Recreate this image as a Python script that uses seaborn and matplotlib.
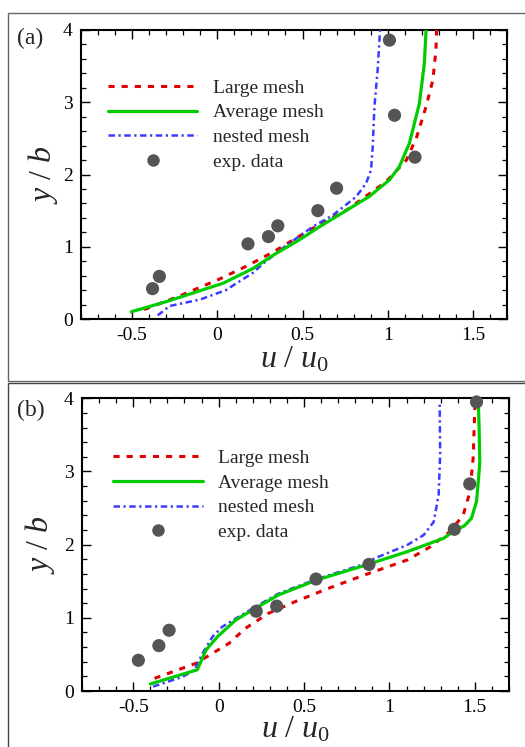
import matplotlib
matplotlib.use("Agg")
import matplotlib.pyplot as plt
import numpy as np
import pandas as pd
import seaborn as sns
from matplotlib.lines import Line2D
from matplotlib.patches import Rectangle
from matplotlib.ticker import MultipleLocator, FuncFormatter

# ---------------- data ----------------
# panel (a)
large_a_u = [-0.43, -0.22, 0.01, 0.17, 0.33, 0.54, 0.76, 0.99, 1.11, 1.17, 1.225, 1.265, 1.283, 1.287]
large_a_y = [0.13, 0.32, 0.55, 0.73, 0.93, 1.23, 1.51, 1.90, 2.20, 2.52, 2.94, 3.31, 3.72, 4.0]
avg_a_u = [-0.505, -0.30, 0.033, 0.21, 0.33, 0.48, 0.60, 0.89, 1.01, 1.068, 1.127, 1.186, 1.215, 1.225]
avg_a_y = [0.10, 0.24, 0.494, 0.70, 0.886, 1.093, 1.277, 1.693, 1.924, 2.108, 2.43, 2.986, 3.54, 4.0]
nested_a_u = [-0.35, -0.28, -0.10, 0.05, 0.21, 0.27, 0.40, 0.56, 0.68, 0.815, 0.873, 0.902, 0.912, 0.922, 0.941, 0.955]
nested_a_y = [0.05, 0.18, 0.27, 0.40, 0.64, 0.77, 1.01, 1.277, 1.44, 1.693, 1.878, 2.06, 2.385, 2.94, 3.45, 4.0]
exp_a_u = [-0.38, -0.34, 0.18, 0.30, 0.355, 0.59, 0.70, 1.16, 1.04, 1.01]
exp_a_y = [0.42, 0.59, 1.04, 1.14, 1.29, 1.50, 1.81, 2.24, 2.82, 3.86]

# panel (b)
large_b_u = [-0.375, -0.133, -0.036, 0.061, 0.157, 0.292, 0.447, 0.64, 0.853, 1.104, 1.239, 1.355, 1.432, 1.471, 1.49, 1.50, 1.51]
large_b_y = [0.173, 0.378, 0.515, 0.652, 0.857, 1.062, 1.22, 1.40, 1.585, 1.79, 1.97, 2.18, 2.405, 2.72, 3.18, 3.86, 3.97]
avg_b_u = [-0.40, -0.125, -0.074, -0.007, 0.10, 0.215, 0.35, 0.575, 0.86, 1.104, 1.317, 1.375, 1.44, 1.48, 1.51, 1.525, 1.529, 1.525, 1.52]
avg_b_y = [0.096, 0.29, 0.56, 0.742, 0.97, 1.13, 1.312, 1.517, 1.72, 1.904, 2.087, 2.18, 2.26, 2.36, 2.59, 3.0, 3.13, 3.6, 3.97]
nested_b_u = [-0.384, -0.21, -0.142, -0.094, -0.036, 0.022, 0.10, 0.215, 0.35, 0.575, 0.86, 0.911, 1.104, 1.20, 1.259, 1.288, 1.297, 1.294]
nested_b_y = [0.06, 0.195, 0.287, 0.515, 0.742, 0.879, 0.99, 1.15, 1.33, 1.53, 1.74, 1.81, 1.995, 2.13, 2.31, 2.68, 3.23, 3.95]
exp_b_u = [-0.47, -0.35, -0.29, 0.22, 0.34, 0.57, 0.88, 1.38, 1.47, 1.51]
exp_b_y = [0.42, 0.62, 0.83, 1.09, 1.16, 1.53, 1.73, 2.21, 2.83, 3.95]

series_names = ["Large mesh", "Average mesh", "nested mesh", "exp. data"]
x_ticks = [-0.5, 0, 0.5, 1, 1.5]
y_ticks = [0, 1, 2, 3, 4]
panel_labels = ["(a)", "(b)"]

# ---------------- style ----------------
sns.set_theme(style="white")
plt.rcParams["font.family"] = ["Liberation Serif", "DejaVu Serif"]
plt.rcParams["mathtext.fontset"] = "custom"
plt.rcParams["mathtext.it"] = "Liberation Serif:italic"
plt.rcParams["mathtext.rm"] = "Liberation Serif"
plt.rcParams["axes.unicode_minus"] = False

RED = "#e00000"
GREEN = "#00cc00"
BLUE = "#3b3bff"
GRAY = "#555555"
RED_DASH = (2.0, 2.3)
BLUE_DASH = (2.6, 1.4, 0.9, 1.4)

fig = plt.figure(figsize=(5.25, 7.47), dpi=100)
ax_a = fig.add_axes([81/525, 1 - 319/747, 426/525, 289/747])
ax_b = fig.add_axes([82/525, 1 - 691/747, 427/525, 292.7/747])

# frames around panels
fig.add_artist(Rectangle((8/525, 1 - 381.3/747), 1.0, (381.3 - 13)/747, transform=fig.transFigure,
                         fill=False, ec="#666666", lw=1.0))
fig.add_artist(Rectangle((8/525, -0.05), 1.0, 0.05 + (747 - 383.3)/747, transform=fig.transFigure,
                         fill=False, ec="#444444", lw=1.0))

panels = [
    (ax_a, large_a_u, large_a_y, avg_a_u, avg_a_y, nested_a_u, nested_a_y, exp_a_u, exp_a_y,
     (0.063, 0.83), -0.09, -0.142),
    (ax_b, large_b_u, large_b_y, avg_b_u, avg_b_y, nested_b_u, nested_b_y, exp_b_u, exp_b_y,
     (0.073, 0.825), -0.098, -0.133),
]

for i, (ax, lu, ly, au, ay, nu, ny, eu, ey, leg_anchor, ylab_x, xlab_y) in enumerate(panels):
    df_l = pd.DataFrame({"u": lu, "y": ly})
    df_a = pd.DataFrame({"u": au, "y": ay})
    df_n = pd.DataFrame({"u": nu, "y": ny})
    df_e = pd.DataFrame({"u": eu, "y": ey})

    sns.lineplot(data=df_l, x="u", y="y", sort=False, estimator=None, ax=ax,
                 color=RED, lw=2.2, zorder=3)
    ax.lines[-1].set_dashes(RED_DASH)
    sns.lineplot(data=df_n, x="u", y="y", sort=False, estimator=None, ax=ax,
                 color=BLUE, lw=1.8, zorder=3)
    ax.lines[-1].set_dashes(BLUE_DASH)
    sns.lineplot(data=df_a, x="u", y="y", sort=False, estimator=None, ax=ax,
                 color=GREEN, lw=2.3, zorder=4)
    sns.scatterplot(data=df_e, x="u", y="y", ax=ax, color=GRAY, s=90,
                    edgecolor="none", zorder=5, clip_on=False)

    ax.set_xlim(-0.8, 1.7)
    ax.set_ylim(0, 4)
    ax.set_xticks(x_ticks)
    ax.set_yticks(y_ticks)
    ax.xaxis.set_minor_locator(MultipleLocator(0.1))
    ax.yaxis.set_minor_locator(MultipleLocator(0.2))
    fmt = FuncFormatter(lambda v, p: "%g" % v)
    ax.xaxis.set_major_formatter(fmt)
    ax.yaxis.set_major_formatter(fmt)
    ax.tick_params(which="both", direction="in", top=True, right=True, bottom=True, left=True,
                   colors="black", labelsize=14)
    ax.tick_params(which="major", length=6.5, width=1.0, pad=6)
    ax.tick_params(which="minor", length=3.6, width=0.9)
    for sp in ax.spines.values():
        sp.set_linewidth(1.5)
        sp.set_color("black")

    ax.set_xlabel(r"$u\ /\ u_{\mathit{0}}$", fontsize=23, va="center")
    ax.set_ylabel(r"$y\ /\ b$", fontsize=23, va="center", ha="center")
    ax.xaxis.set_label_coords(0.5, xlab_y)
    ax.yaxis.set_label_coords(ylab_x, 0.5)

    handles = [
        Line2D([], [], color=RED, lw=2.2, dashes=RED_DASH),
        Line2D([], [], color=GREEN, lw=2.3),
        Line2D([], [], color=BLUE, lw=1.8, dashes=BLUE_DASH),
        Line2D([], [], color=GRAY, lw=0, marker="o", markersize=9, markeredgewidth=0),
    ]
    ax.legend(handles, series_names, loc="upper left", bbox_to_anchor=leg_anchor,
              frameon=False, fontsize=14, handlelength=4.6, handletextpad=0.8,
              labelspacing=0.36, borderpad=0, borderaxespad=0)

fig.text(17/525, 1 - 38/747, panel_labels[0], fontsize=17, va="center", ha="left")
fig.text(17/525, 1 - 410/747, panel_labels[1], fontsize=17, va="center", ha="left")

fig.savefig("out.png", dpi=100)
